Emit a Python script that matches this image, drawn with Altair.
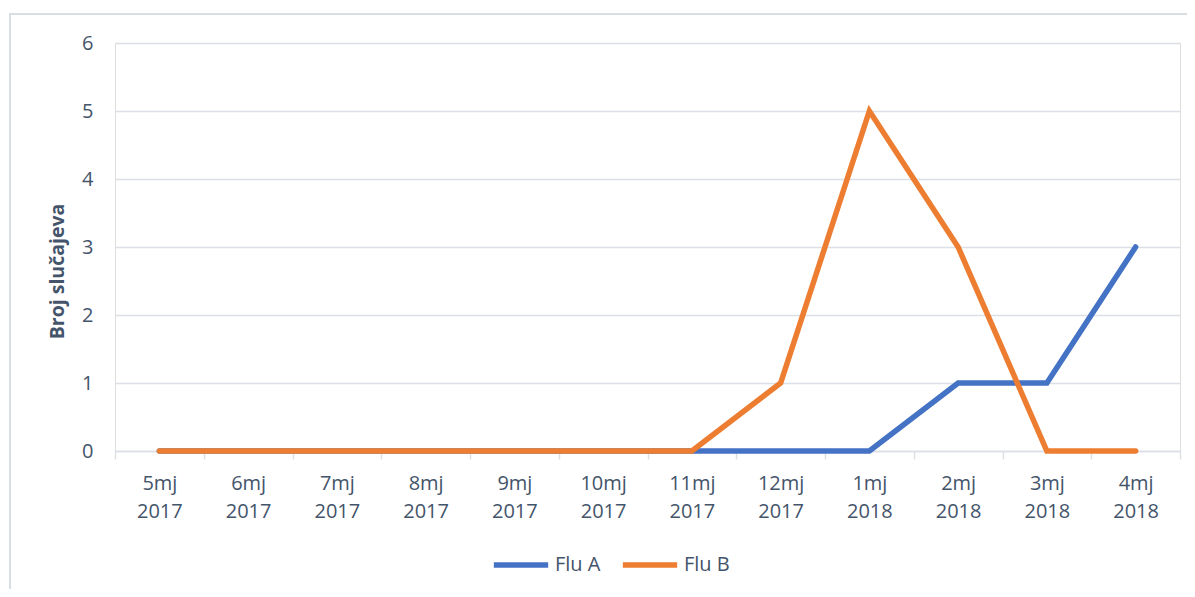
import altair as alt
import pandas as pd

months = ["5mj 2017", "6mj 2017", "7mj 2017", "8mj 2017", "9mj 2017", "10mj 2017",
          "11mj 2017", "12mj 2017", "1mj 2018", "2mj 2018", "3mj 2018", "4mj 2018"]
flu_a = [0, 0, 0, 0, 0, 0, 0, 0, 0, 1, 1, 3]
flu_b = [0, 0, 0, 0, 0, 0, 0, 1, 5, 3, 0, 0]
series = ["Flu A", "Flu B"]
colors = ["#4472C4", "#ED7D31"]

rows = []
for i, m in enumerate(months):
    rows.append({"month": m, "series": "Flu A", "value": flu_a[i], "order": i})
    rows.append({"month": m, "series": "Flu B", "value": flu_b[i], "order": i})
df = pd.DataFrame(rows)

FONT = "Open Sans"
TXT = "#44546A"
GRID = "#DCE0E6"

lines = alt.Chart(df).mark_line(strokeWidth=5.5, strokeCap="round", strokeJoin="miter").encode(
    x=alt.X("month:N", sort=months,
            scale=alt.Scale(paddingInner=0, paddingOuter=0),
            axis=alt.Axis(title=None, labelAngle=0, labelExpr="split(datum.label, ' ')",
                          labelLineHeight=28, labelFontSize=20, labelPadding=14,
                          labelColor=TXT, labelFont=FONT, tickBand="extent",
                          tickColor=GRID, tickSize=8, tickWidth=1.5,
                          domainColor=GRID, domainWidth=1.5, grid=False)),
    y=alt.Y("value:Q", scale=alt.Scale(domain=[0, 6], nice=False),
            axis=alt.Axis(title="Broj slučajeva", values=[0, 1, 2, 3, 4, 5, 6],
                          labelFontSize=20, labelColor=TXT, labelFont=FONT,
                          labelPadding=22, ticks=False, domain=False,
                          gridColor=GRID, gridWidth=1.5,
                          titleFont=FONT, titleFontSize=19.5, titleFontWeight="bold",
                          titleColor=TXT, titleX=-58, titleY=228, titleAngle=-90,
                          titleBaseline="middle", titleAlign="center")),
    color=alt.Color("series:N", scale=alt.Scale(domain=series, range=colors),
                    legend=alt.Legend(title=None, orient="none", legendX=376, legendY=492,
                                      direction="horizontal", symbolType="stroke")),
    order="order:Q",
)

frame = alt.Chart(pd.DataFrame({"a": [0]})).mark_rect(
    fill=None, stroke="#D9DEE5", strokeWidth=2
).encode(x=alt.value(-105), x2=alt.value(1300), y=alt.value(-29), y2=alt.value(800))

chart = alt.layer(frame, lines).properties(
    width=1065, height=408,
    autosize=alt.AutoSizeParams(type="none"),
    padding={"left": 107, "top": 35, "right": 7, "bottom": 138},
).configure_view(stroke=None).configure(background="white").configure_legend(
    labelFontSize=20, labelColor=TXT, labelFont=FONT, symbolStrokeWidth=5.5,
    symbolSize=2950, columnPadding=10, labelOffset=4, symbolType="stroke",
    labelLimit=200,
)

chart.save("out.html", embed_options={"renderer": "svg", "actions": False})
